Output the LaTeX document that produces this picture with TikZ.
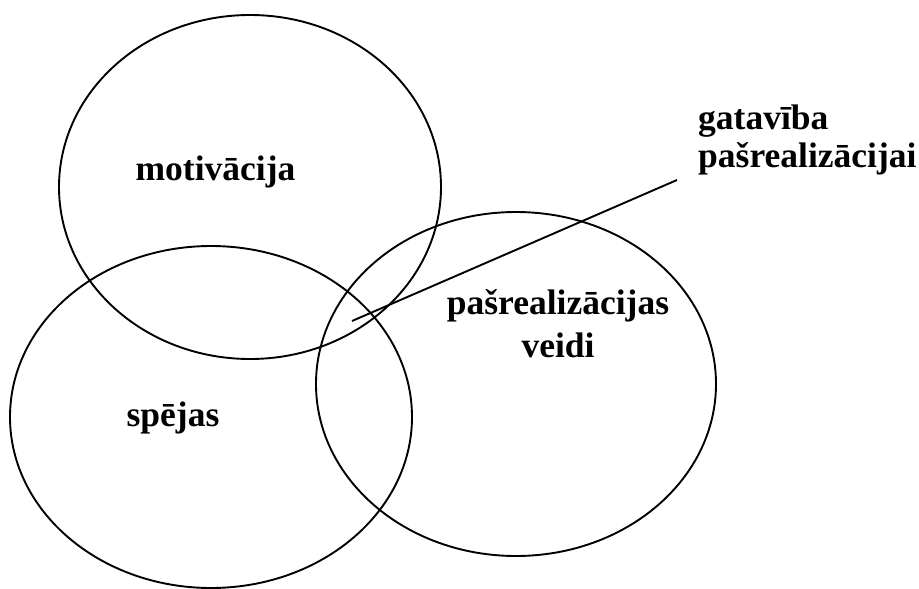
\documentclass[tikz,border=0pt]{standalone}
\usepackage{fontspec}
\setmainfont{Liberation Serif}
\usetikzlibrary{shapes.geometric}
\begin{document}
\begin{tikzpicture}[x=1pt,y=-1pt,
  ring/.style={draw, ellipse, line width=1.9pt, inner sep=0pt},
  lbl/.style={font=\fontsize{35.5}{43}\selectfont\bfseries, inner sep=0pt, align=center},
  conn/.style={line width=1.9pt}]
\useasboundingbox (0,0) rectangle (919,589);
\node[ring, minimum width=382pt, minimum height=344pt] (mot) at (250,187) {};
\node[ring, minimum width=402pt, minimum height=342pt] (spe) at (211,417) {};
\node[ring, minimum width=400pt, minimum height=344pt] (pas) at (516,384) {};
\node[lbl, anchor=base] (tmot) at (215.5,180) {motivācija};
\node[lbl, anchor=base] (tspe) at (173,426) {spējas};
\node[lbl, anchor=base] (tpas) at (558,357) {pašrealizācijas\\veidi};
\node[lbl, anchor=base west, align=left, font=\fontsize{35.5}{38}\selectfont\bfseries] (tgat) at (698,167) {gatavība\\pašrealizācijai};
\coordinate (a) at (352,321);
\coordinate (b) at (677,180);
\draw[conn] (a) -- (b);
\end{tikzpicture}
\end{document}
